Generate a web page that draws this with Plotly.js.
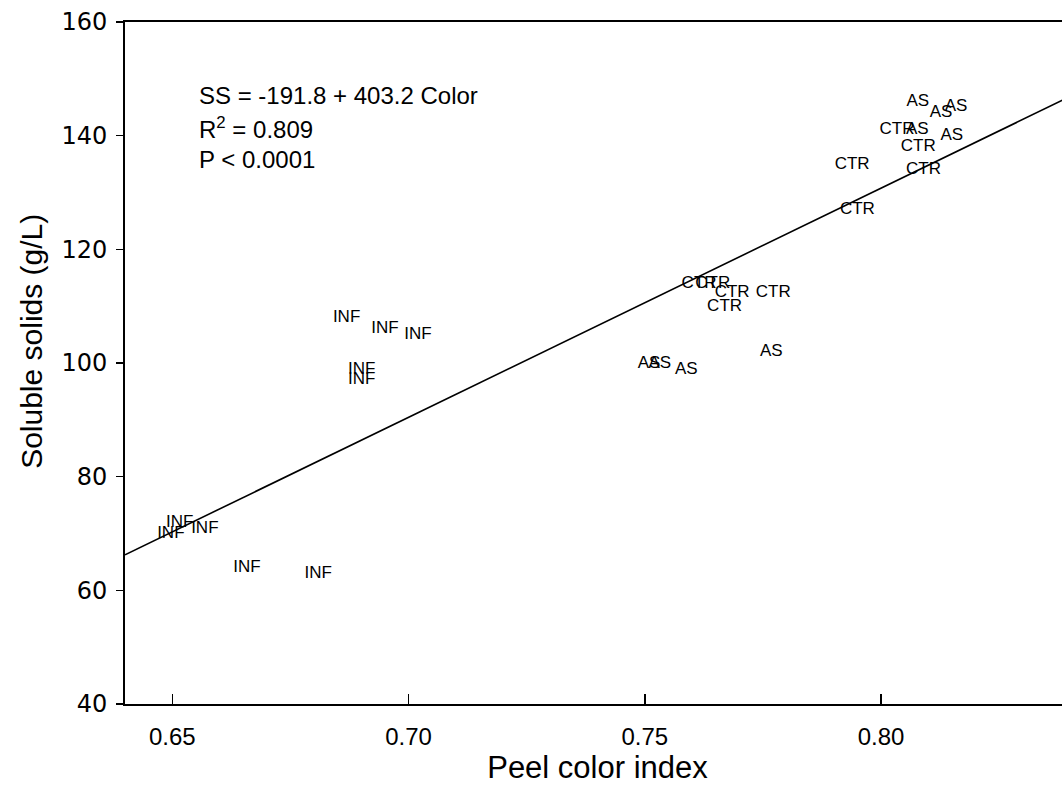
<!DOCTYPE html>
<html>
<head>
<meta charset="utf-8">
<script src="https://cdn.plot.ly/plotly-3.0.1.min.js"></script>
<style>
  html, body { margin: 0; padding: 0; overflow: hidden; background: #fff; }
  #chart { width: 1072px; height: 807px; }
</style>
</head>
<body>
<div id="chart"></div>
<script>
// Peel colour index vs soluble solids, by treatment group
const infColor  = [0.6869, 0.6950, 0.7020, 0.6901, 0.6901, 0.6516, 0.6497, 0.6569, 0.6658, 0.6809];
const infSolids = [108.0, 106.0, 105.0, 98.9, 97.1, 71.9, 70.0, 70.9, 63.9, 63.0];

const ctrColor  = [0.7615, 0.7644, 0.7685, 0.7772, 0.7669, 0.8034, 0.8079, 0.7939, 0.8090, 0.7950];
const ctrSolids = [113.9, 113.9, 112.3, 112.3, 109.9, 141.0, 138.1, 134.9, 134.0, 126.9];

const asColor   = [0.7509, 0.7532, 0.7588, 0.7768, 0.8078, 0.8127, 0.8159, 0.8077, 0.8150];
const asSolids  = [99.8, 99.8, 98.9, 101.9, 146.0, 144.1, 145.1, 141.0, 140.0];

// Fitted regression: SS = a + b * Color
const intercept = -191.8;
const slope = 403.2;
const fitX = [0.64, 0.84];
const fitY = fitX.map(x => intercept + slope * x);

const statLines = ['SS = -191.8 + 403.2 Color', 'R<sup>2</sup> = 0.809', 'P < 0.0001'];

const xTicks = [0.65, 0.70, 0.75, 0.80];
const xTickText = ['0.65', '0.70', '0.75', '0.80'];
const yTicks = [40, 60, 80, 100, 120, 140, 160];

const xTitle = 'Peel color index';
const yTitle = 'Soluble solids (g/L)';

const FONT = 'Arial, "Liberation Sans", sans-serif';
const WIDE = '"DejaVu Sans", Arial, sans-serif';

function labelTrace(x, y, label) {
  return {
    type: 'scatter', mode: 'text', x: x, y: y,
    text: x.map(() => label),
    textposition: 'middle center',
    textfont: { family: FONT, size: 17, color: '#000' },
    hoverinfo: 'skip', showlegend: false, cliponaxis: false
  };
}

const traces = [
  {
    type: 'scatter', mode: 'lines', x: fitX, y: fitY,
    line: { color: '#000', width: 1.6 }, hoverinfo: 'skip', showlegend: false
  },
  labelTrace(infColor, infSolids, 'INF'),
  labelTrace(ctrColor, ctrSolids, 'CTR'),
  labelTrace(asColor, asSolids, 'AS')
];

const statY = [0.8915, 0.8446, 0.7991];
const annotations = statLines.map((t, i) => ({
  xref: 'paper', yref: 'paper', x: 0.0762, y: statY[i],
  xanchor: 'left', yanchor: 'middle', showarrow: false,
  text: t, font: { family: FONT, size: 24, color: '#000' }
}));

// y-axis title, set slightly above the axis midpoint
annotations.push({
  xref: 'paper', yref: 'paper', x: -0.0984, y: 0.531,
  xanchor: 'center', yanchor: 'middle', showarrow: false, textangle: -90,
  text: yTitle, font: { family: FONT, size: 30, color: '#000' }
});

const layout = {
  width: 1072, height: 807,
  margin: { l: 125, r: 2, t: 22, b: 103 },
  paper_bgcolor: '#fff', plot_bgcolor: '#fff',
  showlegend: false,
  font: { family: FONT, color: '#000' },
  xaxis: {
    range: [0.64, 0.84], tickvals: xTicks, ticktext: xTickText,
    ticks: 'inside', ticklen: 10, tickwidth: 1.5, tickcolor: '#000',
    showline: true, linecolor: '#000', linewidth: 2, mirror: true,
    showgrid: false, zeroline: false,
    tickfont: { family: FONT, size: 24, color: '#000' },
    ticklabelstandoff: 10,
    title: { text: xTitle, font: { family: FONT, size: 31, color: '#000' }, standoff: 8 },
    automargin: false
  },
  yaxis: {
    range: [40, 160], tickvals: yTicks,
    ticks: 'outside', ticklen: 7, tickwidth: 1.5, tickcolor: '#000',
    showline: true, linecolor: '#000', linewidth: 2, mirror: true,
    showgrid: false, zeroline: false,
    tickfont: { family: WIDE, size: 24, color: '#000' },
    ticklabelstandoff: 4,
    automargin: false
  },
  annotations: annotations
};

Plotly.newPlot('chart', traces, layout, { displayModeBar: false, staticPlot: true });
</script>
</body>
</html>
